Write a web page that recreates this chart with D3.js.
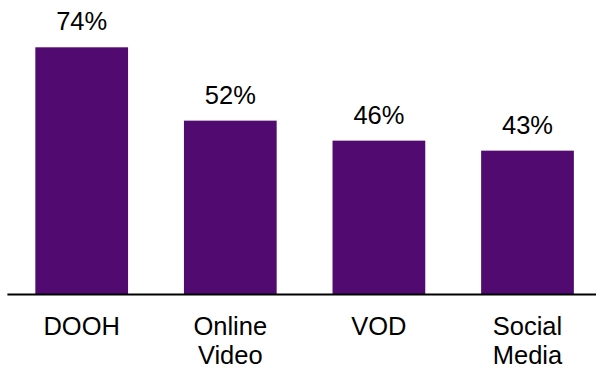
<!DOCTYPE html>
<html>
<head>
<meta charset="utf-8">
<script src="https://cdn.jsdelivr.net/npm/d3@7/dist/d3.min.js"></script>
<style>
  html, body { margin: 0; padding: 0; background: #ffffff; }
  svg { display: block; }
  text { font-family: "Liberation Sans", Arial, sans-serif; fill: #000; }
</style>
</head>
<body>
<svg id="chart" width="596" height="368"></svg>
<script>
// Share of respondents per channel
const categories = ["DOOH", "Online Video", "VOD", "Social Media"];
const categoryLines = [["DOOH"], ["Online", "Video"], ["VOD"], ["Social", "Media"]];
const values = [74, 52, 46, 43];
const valueLabels = ["74%", "52%", "46%", "43%"];

const W = 596, H = 368;
const baseY = 294;
const svg = d3.select("#chart");

const x = d3.scaleBand()
  .domain(categories)
  .range([7.4, 601.8])
  .paddingInner(0.376)
  .paddingOuter(0.188);

const y = d3.scaleLinear()
  .domain([0, 74])
  .range([baseY, 47.3]);

const barColor = "#510a70";

// bars
svg.append("g")
  .selectAll("rect")
  .data(values)
  .join("rect")
  .attr("x", (d, i) => x(categories[i]))
  .attr("width", x.bandwidth())
  .attr("y", d => y(d))
  .attr("height", d => baseY - y(d))
  .attr("fill", barColor);

// value labels above bars
svg.append("g")
  .selectAll("text")
  .data(values)
  .join("text")
  .attr("x", (d, i) => x(categories[i]) + x.bandwidth() / 2)
  .attr("y", d => y(d) - 17)
  .attr("text-anchor", "middle")
  .style("font-size", "25.5px")
  .text((d, i) => valueLabels[i]);

// baseline
svg.append("line")
  .attr("x1", 7.4).attr("x2", W)
  .attr("y1", baseY + 0.5).attr("y2", baseY + 0.5)
  .attr("stroke", "#000")
  .attr("stroke-width", 2);

// category labels
const cat = svg.append("g")
  .selectAll("text")
  .data(categories)
  .join("text")
  .attr("x", d => x(d) + x.bandwidth() / 2)
  .attr("y", 335)
  .attr("text-anchor", "middle")
  .style("font-size", "25.5px");

cat.selectAll("tspan")
  .data((d, i) => categoryLines[i])
  .join("tspan")
  .attr("x", function () { return d3.select(this.parentNode).attr("x"); })
  .attr("dy", (d, j) => j === 0 ? 0 : 28.5)
  .text(d => d);
</script>
</body>
</html>
